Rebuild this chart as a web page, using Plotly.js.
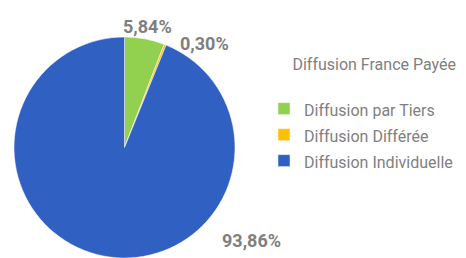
<!DOCTYPE html>
<html>
<head>
<meta charset="utf-8">
<script src="https://cdn.plot.ly/plotly-3.0.1.min.js"></script>
<style>html,body{margin:0;padding:0;background:#fff;}#chart{width:466px;height:258px;}</style>
</head>
<body>
<div id="chart"></div>
<script>
var categories = ["Diffusion par Tiers", "Diffusion Différée", "Diffusion Individuelle"];
var values = [5.84, 0.30, 93.86];
var colors = ["#92d050", "#ffc000", "#3061c2"];
var legendTitle = "Diffusion France Payée";
// label anchor points (paper fractions) for the percentage labels
var labelPos = [[147/466, 1 - 27/258], [204/466, 1 - 44/258], [251/466, 1 - 240/258]];

function fmt(v) { return v.toFixed(2).replace('.', ',') + '%'; }

var trace = {
  type: 'pie',
  labels: categories.map(function (c) { return "<span style='font-size:16px'>" + c + "</span>"; }),
  values: values,
  sort: false,
  direction: 'clockwise',
  rotation: 0,
  marker: { colors: colors, line: { color: '#ffffff', width: 0.5 } },
  textinfo: 'none',
  hoverinfo: 'label+percent',
  domain: { x: [14/466, 235/466], y: [0, 1 - 37/258] }
};

var annotations = values.map(function (v, i) {
  return {
    text: fmt(v), xref: 'paper', yref: 'paper',
    x: labelPos[i][0], y: labelPos[i][1], xanchor: 'center', yanchor: 'middle',
    showarrow: false,
    font: { family: 'Roboto, sans-serif', size: 18, color: '#7f7f7f', weight: 'bold' }
  };
});

var layout = {
  width: 466, height: 258,
  margin: { l: 0, r: 0, t: 0, b: 0, autoexpand: false },
  paper_bgcolor: '#ffffff',
  showlegend: true,
  legend: {
    x: 264/466, y: 1 - 49/258, xanchor: 'left', yanchor: 'top',
    bgcolor: 'rgba(0,0,0,0)',
    font: { family: 'Roboto, sans-serif', size: 17.7, color: '#7f7f7f' },
    title: { text: legendTitle + "<br> ", side: 'top right',
             font: { family: 'Roboto, sans-serif', size: 16, color: '#7f7f7f' } },
    traceorder: 'normal'
  },
  annotations: annotations
};

Plotly.newPlot('chart', [trace], layout, { displayModeBar: false, staticPlot: true });
</script>
</body>
</html>
